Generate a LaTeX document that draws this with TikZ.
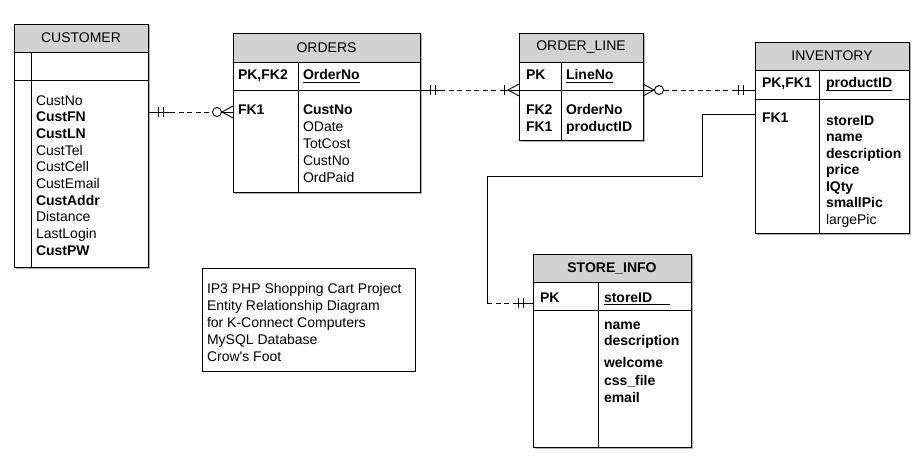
\documentclass[tikz,border=0pt]{standalone}
\usepackage{fontspec}
\setmainfont{Liberation Sans}
\usetikzlibrary{positioning,shadows}

\begin{document}
\begin{tikzpicture}[x=1pt,y=-1pt,
    font=\fontsize{14}{16.7}\selectfont,
    every node/.style={inner sep=0pt,outer sep=0pt},
    tabhead/.style={draw,fill=gray!35,line width=0.9pt,
        drop shadow={shadow xshift=1.5pt,shadow yshift=-1.5pt,fill=gray!60,opacity=1}},
    tabcell/.style={draw,fill=white,line width=0.9pt,
        drop shadow={shadow xshift=1.5pt,shadow yshift=-1.5pt,fill=gray!60,opacity=1}},
    field/.style={anchor=base west},
    rel/.style={line width=0.9pt},
    reldash/.style={rel,dash pattern=on 5pt off 3.5pt},
    keyline/.style={line width=0.8pt}]
\useasboundingbox (0,0) rectangle (918,460);

% CUSTOMER
\node[tabhead,minimum width=134pt,minimum height=28pt,anchor=north west] (cust) at (14,24) {CUSTOMER};
\node[tabcell,minimum width=134pt,minimum height=28pt,below=0pt of cust] (cust-pk) {};
\node[tabcell,minimum width=134pt,minimum height=187pt,below=0pt of cust-pk] (cust-body) {};
\draw[rel] ([xshift=17pt]cust-pk.north west) -- ([xshift=17pt]cust-body.south west);
\foreach \f [count=\i] in {CustNo,\textbf{CustFN},\textbf{CustLN},CustTel,CustCell,CustEmail,\textbf{CustAddr},Distance,LastLogin,\textbf{CustPW}}
    \node[field] (cust-f\i) at (36,{105+16.7*(\i-1)}) {\f};

% ORDERS
\node[tabhead,minimum width=187pt,minimum height=29pt,anchor=north west] (ord) at (233,33) {ORDERS};
\node[tabcell,minimum width=187pt,minimum height=28pt,below=0pt of ord] (ord-pk) {};
\node[tabcell,minimum width=187pt,minimum height=102pt,below=0pt of ord-pk] (ord-body) {};
\draw[rel] ([xshift=65pt]ord-pk.north west) -- ([xshift=65pt]ord-body.south west);
\node[field] (ord-k1) at (238,80) {\textbf{PK,FK2}};
\node[field] (ord-k2) at (238,114) {\textbf{FK1}};
\node[field] (ord-id) at (303,80) {\textbf{OrderNo}};
\draw[keyline] ([yshift=-2pt]ord-id.base west) -- ([yshift=-2pt]ord-id.base east);
\foreach \f [count=\i] in {\textbf{CustNo},ODate,TotCost,CustNo,OrdPaid}
    \node[field] (ord-f\i) at (303,{114+17*(\i-1)}) {\f};

% ORDER_LINE
\node[tabhead,minimum width=124pt,minimum height=29pt,anchor=north west] (ol) at (519,33) {ORDER\_LINE};
\node[tabcell,minimum width=124pt,minimum height=28pt,below=0pt of ol] (ol-pk) {};
\node[tabcell,minimum width=124pt,minimum height=50pt,below=0pt of ol-pk] (ol-body) {};
\draw[rel] ([xshift=42pt]ol-pk.north west) -- ([xshift=42pt]ol-body.south west);
\node[field] (ol-k1) at (526,80) {\textbf{PK}};
\node[field] (ol-k2) at (526,114) {\textbf{FK2}};
\node[field] (ol-k3) at (526,131) {\textbf{FK1}};
\node[field] (ol-id) at (566,80) {\textbf{LineNo}};
\draw[keyline] ([yshift=-2pt]ol-id.base west) -- ([yshift=-2pt]ol-id.base east);
\node[field] (ol-f1) at (566,114) {\textbf{OrderNo}};
\node[field] (ol-f2) at (566,131) {\textbf{productID}};

% INVENTORY
\node[tabhead,minimum width=154pt,minimum height=28pt,anchor=north west] (inv) at (755,42) {INVENTORY};
\node[tabcell,minimum width=154pt,minimum height=29pt,below=0pt of inv] (inv-pk) {};
\node[tabcell,minimum width=154pt,minimum height=134pt,below=0pt of inv-pk] (inv-body) {};
\draw[rel] ([xshift=64pt]inv-pk.north west) -- ([xshift=64pt]inv-body.south west);
\node[field] (inv-k1) at (762,88) {\textbf{PK,FK1}};
\node[field] (inv-k2) at (762,122) {\textbf{FK1}};
\node[field] (inv-id) at (826,88) {\textbf{productID}};
\draw[keyline] ([yshift=-2pt]inv-id.base west) -- ([yshift=-2pt]inv-id.base east);
\foreach \f [count=\i] in {\textbf{storeID},\textbf{name},\textbf{description},\textbf{price},\textbf{IQty},\textbf{smallPic},largePic}
    \node[field] (inv-f\i) at (826,{125+16.5*(\i-1)}) {\f};

% STORE_INFO
\node[tabhead,minimum width=158pt,minimum height=28pt,anchor=north west] (st) at (533,254) {\textbf{STORE\_INFO}};
\node[tabcell,minimum width=158pt,minimum height=28pt,below=0pt of st] (st-pk) {};
\node[tabcell,minimum width=158pt,minimum height=137pt,below=0pt of st-pk] (st-body) {};
\draw[rel] ([xshift=65pt]st-pk.north west) -- ([xshift=65pt]st-body.south west);
\node[field] (st-k1) at (540,302) {\textbf{PK}};
\node[field] (st-id) at (604,302) {\textbf{storeID}};
\draw[keyline] ([yshift=-2pt]st-id.base west) -- ++(66,0);
\foreach \f/\y [count=\i] in {name/329,description/345,welcome/367,css\_file/385,email/402}
    \node[field] (st-f\i) at (604,\y) {\textbf{\f}};

% project note
\node[draw,line width=0.9pt,minimum width=213pt,minimum height=103pt,anchor=north west] (note) at (202,268) {};
\foreach \t [count=\i] in {IP3 PHP Shopping Cart Project,Entity Relationship Diagram,for K-Connect Computers,MySQL Database,Crow\textquotesingle s Foot}
    \node[field] (note-\i) at (207,{293+17*(\i-1)}) {\t};

% CUSTOMER -- ORDERS
\coordinate (ord-in) at ([yshift=-22pt]ord-body.north west);
\coordinate (cust-out) at (cust-body.east |- ord-in);
\draw[rel] (cust-out) -- ++(22,0);
\foreach \dx in {10,15}
    \draw[rel] ([xshift=\dx pt]cust-out) ++(0,-5) -- ++(0,10);
\draw[reldash] ([xshift=22pt]cust-out) -- ([xshift=-21pt]ord-in);
\draw[rel] ([xshift=-16pt]ord-in) circle (4.5pt);
\draw[rel] ([xshift=-11.5pt]ord-in) -- (ord-in);
\draw[rel] ([yshift=6pt]ord-in) -- ([xshift=-11pt]ord-in) -- ([yshift=-6pt]ord-in);

% ORDERS -- ORDER_LINE
\draw[rel] (ord-pk.south east) -- ++(20,0);
\foreach \dx in {10,15}
    \draw[rel] ([xshift=\dx pt]ord-pk.south east) ++(0,-5) -- ++(0,10);
\draw[reldash] ([xshift=20pt]ord-pk.south east) -- ([xshift=-19pt]ol-pk.south west);
\draw[rel] ([xshift=-19pt]ol-pk.south west) -- (ol-pk.south west);
\draw[rel] ([xshift=-15pt]ol-pk.south west) ++(0,-5) -- ++(0,10);
\draw[rel] ([yshift=6pt]ol-pk.south west) -- ([xshift=-11pt]ol-pk.south west) -- ([yshift=-6pt]ol-pk.south west);

% ORDER_LINE -- INVENTORY
\coordinate (inv-in) at (ol-pk.south east -| inv-pk.west);
\draw[rel] ([yshift=6pt]ol-pk.south east) -- ([xshift=11pt]ol-pk.south east) -- ([yshift=-6pt]ol-pk.south east);
\draw[rel] (ol-pk.south east) -- ++(11.5,0);
\draw[rel] ([xshift=16pt]ol-pk.south east) circle (4.5pt);
\draw[reldash] ([xshift=20.5pt]ol-pk.south east) -- ([xshift=-20pt]inv-in);
\draw[rel] ([xshift=-20pt]inv-in) -- (inv-in);
\foreach \dx in {-17,-12}
    \draw[rel] ([xshift=\dx pt]inv-in) ++(0,-5) -- ++(0,10);

% INVENTORY -- STORE_INFO
\coordinate (inv-out) at ([yshift=-15pt]inv-body.north west);
\coordinate (st-in) at ([yshift=-7pt]st-pk.west);
\draw[rel] (inv-out) -- ++(-53,0) -- ++(0,62) -| ([xshift=-46pt]st-in);
\draw[reldash] ([xshift=-46pt]st-in) -- ([xshift=-18pt]st-in);
\draw[rel] ([xshift=-18pt]st-in) -- (st-in);
\foreach \dx in {-15,-10}
    \draw[rel] ([xshift=\dx pt]st-in) ++(0,-5) -- ++(0,10);
\end{tikzpicture}
\end{document}
